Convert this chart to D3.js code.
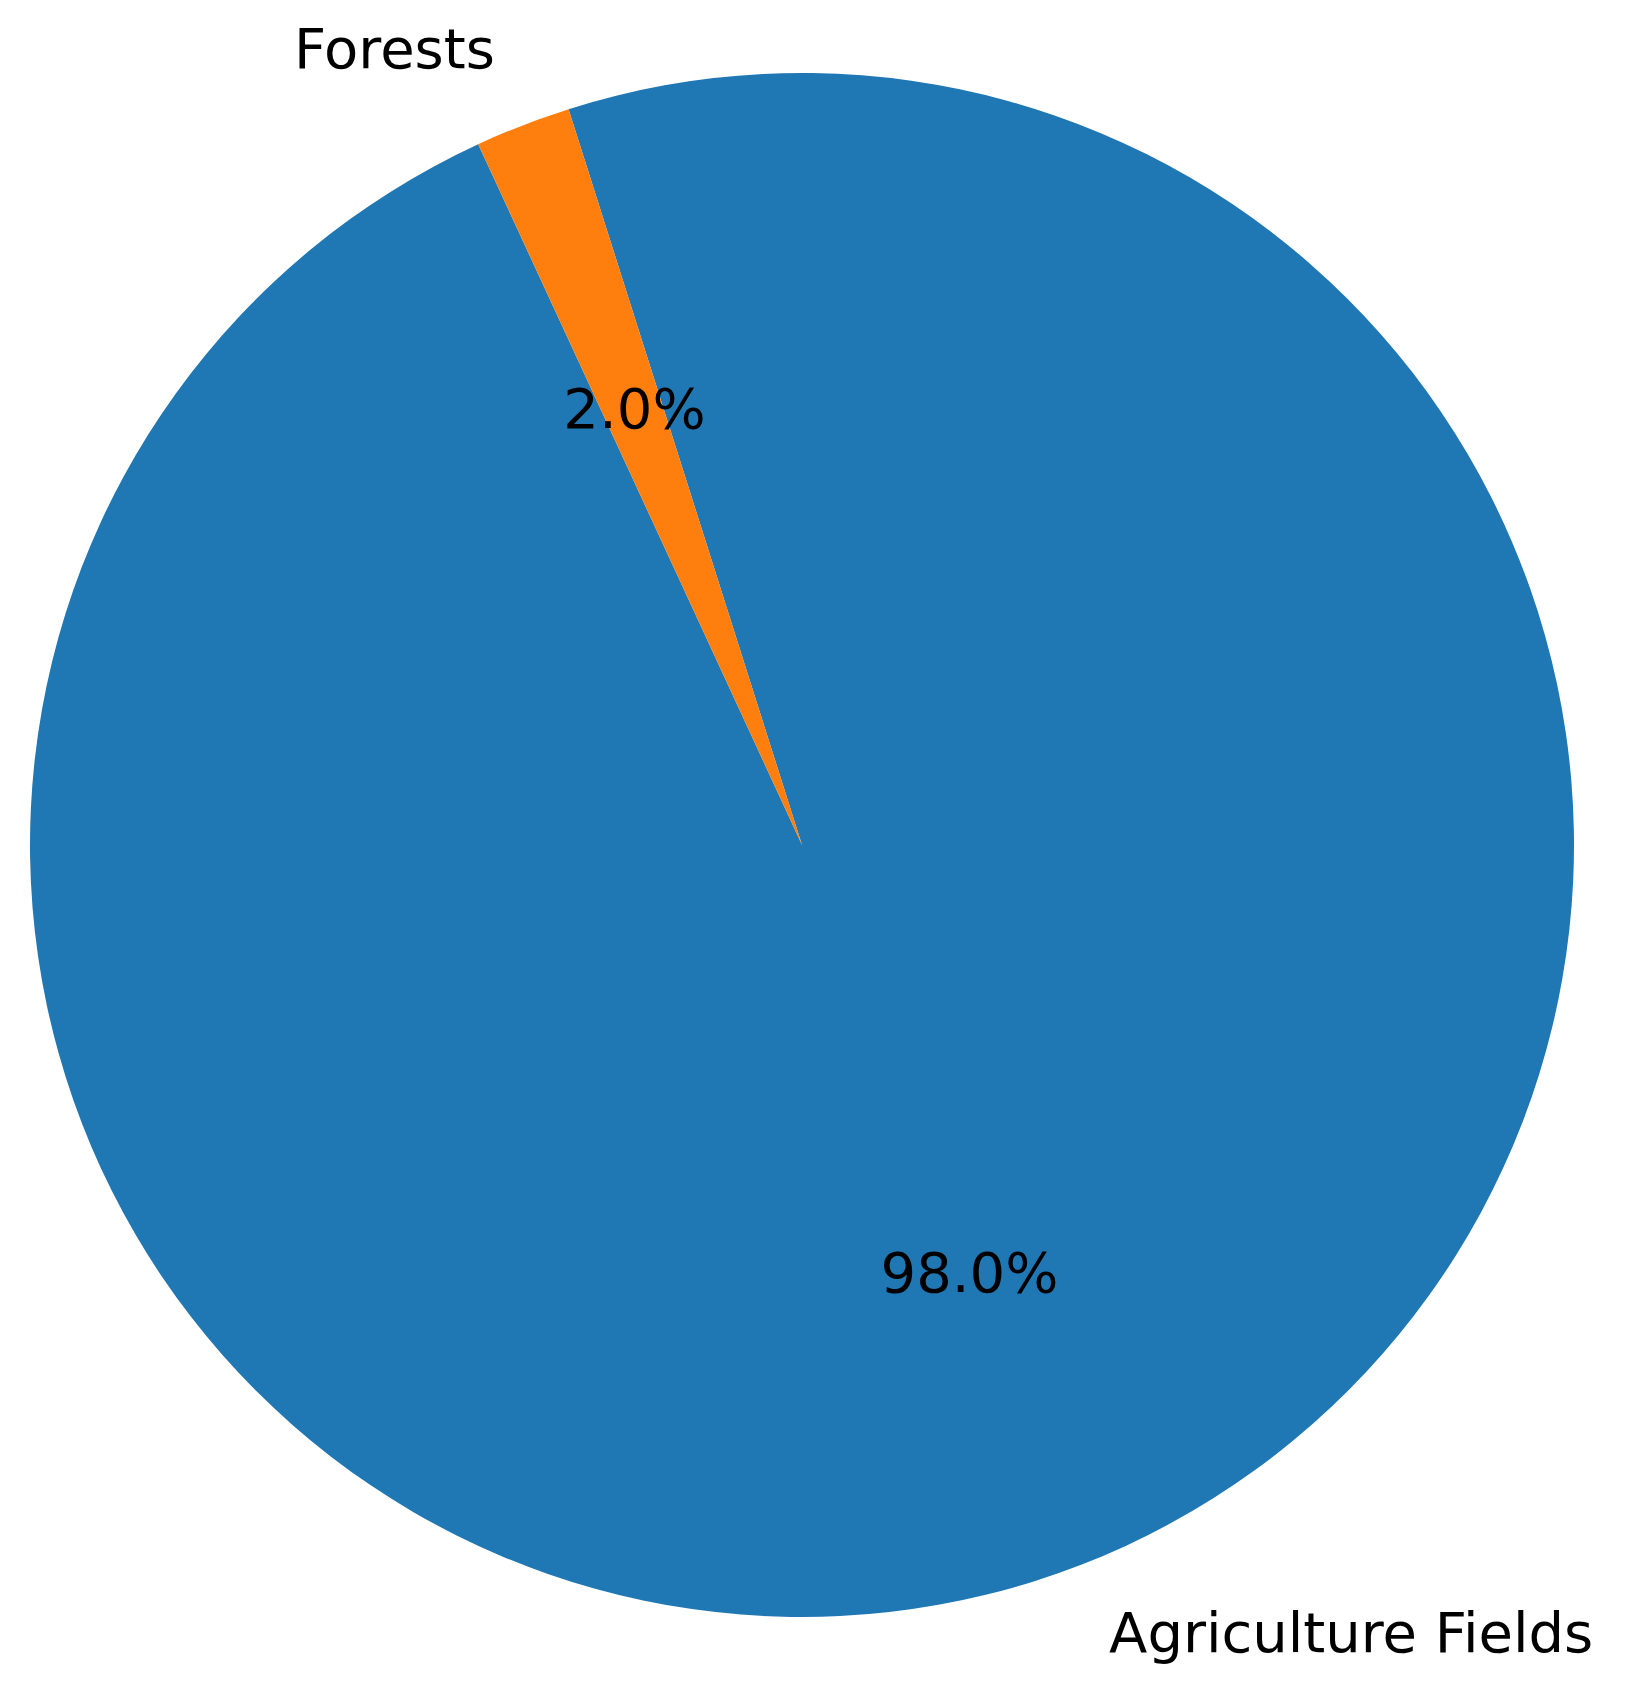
<!DOCTYPE html>
<html>
<head>
<meta charset="utf-8">
<script src="https://cdn.jsdelivr.net/npm/d3@7"></script>
<style>
  html, body { margin: 0; padding: 0; background: #ffffff; }
  svg { display: block; }
</style>
</head>
<body>
<svg id="chart" width="1643" height="1696"></svg>
<script>
// Data
const categories = ["Agriculture Fields", "Forests"];
const values = [98.0, 2.0];
const colors = ["#1f77b4", "#ff7f0e"];

// Layout
const width = 1643, height = 1696;
const cx = 802, cy = 845, radius = 772;
const startAngleDeg = 114.8; // matplotlib-style, counterclockwise from 3 o'clock
const fontSize = 56;
const baselineShift = 0.27 * fontSize;

const svg = d3.select("#chart");
const g = svg.append("g").attr("transform", `translate(${cx},${cy})`);

// d3 angles: clockwise from 12 o'clock; counterclockwise drawing via negative span
const s = (90 - startAngleDeg) * Math.PI / 180;
const pie = d3.pie().sort(null).value(d => d.value)
  .startAngle(s).endAngle(s - 2 * Math.PI);

const data = categories.map((c, i) => ({ name: c, value: values[i], color: colors[i] }));
const arcs = pie(data);

const arc = d3.arc().innerRadius(0).outerRadius(radius);

g.selectAll("path.slice")
  .data(arcs)
  .enter().append("path")
  .attr("class", "slice")
  .attr("d", arc)
  .attr("fill", d => d.data.color);

const total = d3.sum(values);
function pos(d, frac) {
  const a = (d.startAngle + d.endAngle) / 2; // d3 angle
  return [Math.sin(a) * radius * frac, -Math.cos(a) * radius * frac];
}

// Category labels at 1.1 r
g.selectAll("text.label")
  .data(arcs)
  .enter().append("text")
  .attr("class", "label")
  .attr("x", d => pos(d, 1.1)[0])
  .attr("y", d => pos(d, 1.1)[1] + baselineShift)
  .attr("text-anchor", d => pos(d, 1.1)[0] > 0 ? "start" : "end")
  .attr("font-family", "DejaVu Sans")
  .attr("font-size", fontSize)
  .attr("fill", "#000000")
  .text(d => d.data.name);

// Percentage labels at 0.6 r
g.selectAll("text.pct")
  .data(arcs)
  .enter().append("text")
  .attr("class", "pct")
  .attr("x", d => pos(d, 0.6)[0])
  .attr("y", d => pos(d, 0.6)[1] + baselineShift)
  .attr("text-anchor", "middle")
  .attr("font-family", "DejaVu Sans")
  .attr("font-size", fontSize)
  .attr("fill", "#000000")
  .text(d => (d.data.value / total * 100).toFixed(1) + "%");
</script>
</body>
</html>
